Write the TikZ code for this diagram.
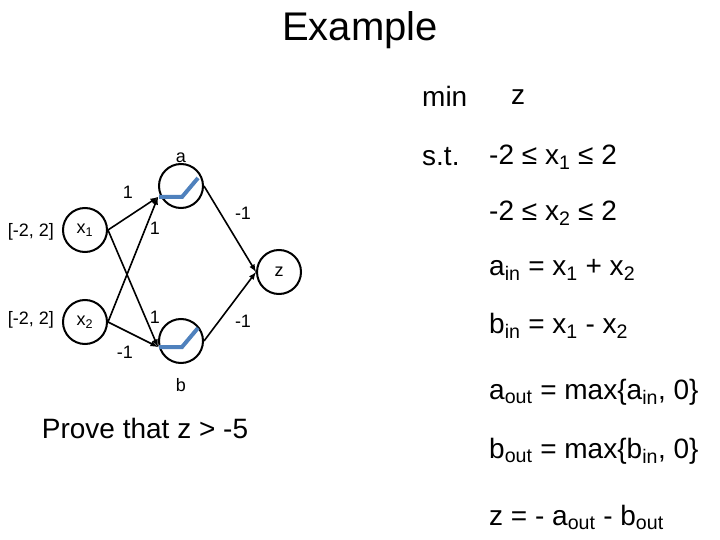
\documentclass[tikz,border=0pt]{standalone}
\usepackage{fontspec}
\setmainfont{Liberation Sans}
\newcommand{\sbx}[1]{\textsubscript{#1}}
\begin{document}
\begin{tikzpicture}[x=1pt,y=-1pt,
  neuron/.style={draw,line width=2pt,circle,minimum size=44pt,inner sep=0pt,font=\fontsize{18}{20}\selectfont},
  lbl/.style={font=\fontsize{18}{20}\selectfont,inner sep=0pt},
  big/.style={font=\fontsize{28}{32}\selectfont,inner sep=0pt,anchor=west},
  edge/.style={line width=1.6pt,-latex},
  relu/.style={line width=4pt,color={rgb,255:red,79;green,129;blue,189}}]
\useasboundingbox (0,0) rectangle (720,540);
\node[font=\fontsize{40}{46}\selectfont] (title) at (360,30) {Example};
\node[neuron] (x1) at (85,230) {x\sbx{1}};
\node[neuron] (x2) at (85,322) {x\sbx{2}};
\node[neuron] (a) at (181,186) {};
\node[neuron] (b) at (181,341) {};
\node[neuron] (z) at (279,272) {z};
\draw[relu] (a.west) ++(1,11) coordinate (ar0) -- ++(23,0) coordinate (ar1) -- ++(16,-19) coordinate (ar2);
\draw[relu] (b.west) ++(1,6) coordinate (br0) -- ++(23,0) coordinate (br1) -- ++(16,-19) coordinate (br2);
\coordinate (ain) at (158,197);
\coordinate (bin) at (158,347);
\draw[edge] (x1.east) -- (ain);
\draw[edge] (x1.east) -- (bin);
\draw[edge] (x2.east) -- (ain);
\draw[edge] (x2.east) -- (bin);
\draw[edge] (a.east) -- (z.west);
\draw[edge] (b.east) -- (z.west);
\node[lbl] (r1) at (31,232) {[-2, 2]};
\node[lbl] (r2) at (31,320) {[-2, 2]};
\node[lbl] (w1) at (128,192) {1};
\node[lbl] (w2) at (155,228) {1};
\node[lbl] (w3) at (155,317) {1};
\node[lbl] (w4) at (125,352) {-1};
\node[lbl] (w5) at (243,213) {-1};
\node[lbl] (w6) at (243,321) {-1};
\node[lbl] (la) at (181,158) {a};
\node[lbl] (lb) at (181,385) {b};
\node[big,anchor=center] (prove) at (145,428) {Prove that z > -5};
\node[big] (min) at (422,96) {min};
\node[big] (zz) at (511,97) {z};
\node[big] (st) at (422,157) {s.t.};
\node[big] (c1) at (489,157) {-2 ≤ x\sbx{1} ≤ 2};
\node[big] (c2) at (489,213) {-2 ≤ x\sbx{2} ≤ 2};
\node[big] (c3) at (489,270) {a\sbx{in} = x\sbx{1} + x\sbx{2}};
\node[big] (c4) at (489,326) {b\sbx{in} = x\sbx{1} - x\sbx{2}};
\node[big] (c5) at (489,392) {a\sbx{out} = max\{a\sbx{in}, 0\}};
\node[big] (c6) at (489,451) {b\sbx{out} = max\{b\sbx{in}, 0\}};
\node[big] (c7) at (489,517) {z = - a\sbx{out} - b\sbx{out}};
\end{tikzpicture}
\end{document}
